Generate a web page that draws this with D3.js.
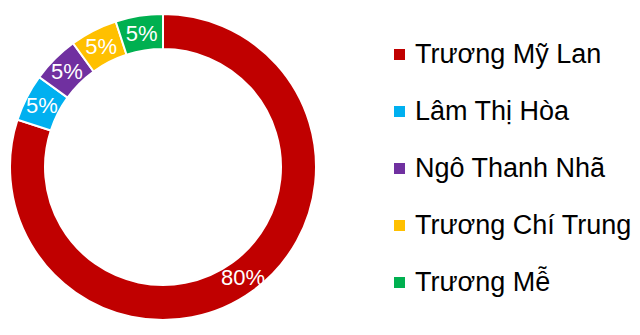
<!DOCTYPE html>
<html>
<head>
<meta charset="utf-8">
<script src="https://cdn.jsdelivr.net/npm/d3@7"></script>
<style>
  body { margin: 0; background: #fff; }
  text { font-family: Arial, "Liberation Sans", sans-serif; }
</style>
</head>
<body>
<svg id="chart" width="640" height="335"></svg>
<script>
const names = ['Trương Mỹ Lan', 'Lâm Thị Hòa', 'Ngô Thanh Nhã', 'Trương Chí Trung', 'Trương Mễ'];
const shares = [80, 5, 5, 5, 5];
const colors = ['#C00000', '#00B0F0', '#7030A0', '#FFC000', '#00B050'];

const svg = d3.select('#chart');
const cx = 163, cy = 167;
const outerR = 153, innerR = 118;

const data = names.map((n, i) => ({ name: n, value: shares[i], color: colors[i] }));

const pie = d3.pie().value(d => d.value).sort(null);
const arc = d3.arc().innerRadius(innerR).outerRadius(outerR);
const labelArc = d3.arc().innerRadius(136).outerRadius(136);

const g = svg.append('g').attr('transform', `translate(${cx},${cy})`);
const arcs = pie(data);

g.selectAll('path').data(arcs).join('path')
  .attr('d', arc)
  .attr('fill', d => d.data.color)
  .attr('stroke', '#fff')
  .attr('stroke-width', 2);

g.selectAll('text.lbl').data(arcs).join('text')
  .attr('class', 'lbl')
  .attr('transform', d => `translate(${labelArc.centroid(d)})`)
  .attr('text-anchor', 'middle')
  .attr('dy', '0.36em')
  .attr('font-size', 22)
  .attr('fill', '#fff')
  .text(d => d.data.value + '%');

// legend
const legendY = d3.scalePoint().domain(names).range([63, 291]);
const leg = svg.append('g');
const item = leg.selectAll('g').data(data).join('g')
  .attr('transform', d => `translate(0,${legendY(d.name)})`);
item.append('rect')
  .attr('x', 394).attr('y', -14)
  .attr('width', 11).attr('height', 11)
  .attr('fill', d => d.color);
item.append('text')
  .attr('x', 415).attr('y', 0)
  .attr('font-size', 27)
  .attr('fill', '#000')
  .text(d => d.name);
</script>
</body>
</html>
